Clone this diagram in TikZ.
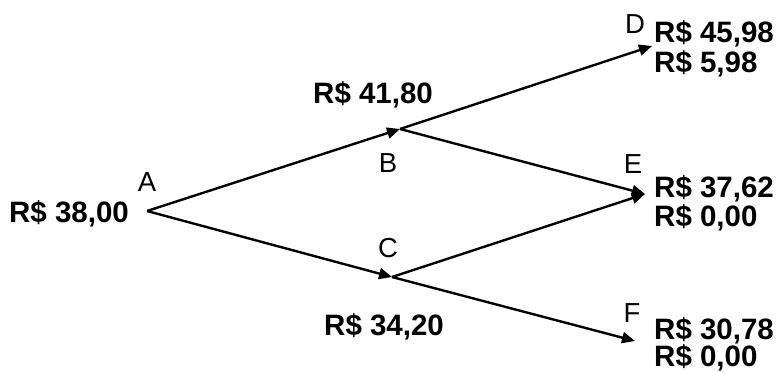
\documentclass[tikz,border=0pt]{standalone}
\usepackage{fontspec}
\setmainfont{Liberation Sans}
\usetikzlibrary{arrows.meta}
\tikzset{
  edge/.style={line width=2.4pt, -{Triangle[length=13pt,width=11pt]}},
  plain/.style={line width=2.4pt},
  val/.style={font=\fontsize{29.5}{30}\selectfont\bfseries, inner sep=0pt, anchor=base west},
  lab/.style={font=\fontsize{27.5}{28}\selectfont, inner sep=0pt, anchor=base},
}
\begin{document}
\begin{tikzpicture}[x=1pt,y=-1pt]
\useasboundingbox (0,0) rectangle (779,372);
% tree points
\coordinate (A) at (147,211);
\coordinate (B) at (400,129);
\coordinate (C) at (392,277);
\coordinate (D) at (652,46);
\coordinate (E) at (645,194);
\coordinate (F) at (635,341);
% connectors
\draw[edge] (A) -- (B);
\draw[edge] (A) -- (C);
\draw[edge] (B) -- (D);
\draw[edge] (B) -- (E);
\draw[edge] (C) -- (E);
\draw[edge] (C) -- (F);
% letters
\node[lab] (lA) at (147,191) {A};
\node[lab] (lB) at (388,172) {B};
\node[lab] (lC) at (388,257) {C};
\node[lab] (lD) at (635,33) {D};
\node[lab] (lE) at (633,173) {E};
\node[lab] (lF) at (632,322) {F};
% values
\node[val] (vA) at (9,222) {R\$ 38,00};
\node[val] (vB) at (313,103) {R\$ 41,80};
\node[val] (vC) at (324,335) {R\$ 34,20};
\node[val] (vD1) at (654,42) {R\$ 45,98};
\node[val] (vD2) at (654,72) {R\$ 5,98};
\node[val] (vE1) at (654,197) {R\$ 37,62};
\node[val] (vE2) at (654,226) {R\$ 0,00};
\node[val] (vF1) at (654,339) {R\$ 30,78};
\node[val] (vF2) at (654,366) {R\$ 0,00};
\end{tikzpicture}
\end{document}
